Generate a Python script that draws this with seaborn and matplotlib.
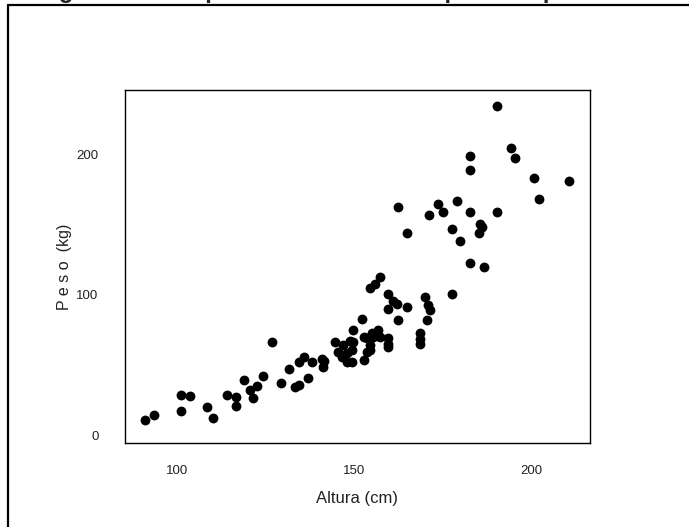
import matplotlib
matplotlib.use('Agg')
import matplotlib.pyplot as plt
import pandas as pd
import seaborn as sns

# Height (cm) and weight (kg)
altura = [91.1, 93.7, 101.2, 103.7, 101.2, 108.6, 110.3, 114.1, 116.6, 116.6,
          119.0, 120.6, 121.6, 122.5, 124.2, 126.8, 129.3, 131.7, 133.3, 134.5,
          134.5, 135.7, 136.9, 138.2, 140.8, 141.3, 141.6,
          144.6, 145.5, 146.5, 146.9, 147.9, 147.9, 148.8, 149.3, 149.3, 149.7,
          149.7, 152.1, 152.6, 152.6, 153.5, 153.5, 154.5, 154.5, 154.9, 155.4,
          156.8, 157.3, 159.6, 159.6, 159.6,
          154.5, 155.9, 157.3, 159.6, 161.0, 162.0, 159.6, 164.8, 162.3,
          170.0, 170.9, 171.4, 170.4, 168.5, 168.5, 168.5, 177.5,
          162.3, 164.8, 171.0, 173.5, 175.1, 178.8, 182.6, 190.1, 177.5, 179.8,
          185.3, 185.9, 185.2, 182.6, 186.4, 190.1, 182.6, 182.6, 194.1, 195.3,
          200.5, 201.9, 210.6]
peso = [11.3, 14.9, 29.1, 28.4, 17.7, 20.8, 13.0, 29.1, 27.9, 21.3,
        39.7, 32.6, 26.7, 35.5, 42.8, 66.9, 37.4, 47.5, 34.5, 36.2,
        52.7, 55.8, 41.3, 52.7, 54.4, 49.1, 53.0,
        66.9, 59.8, 56.2, 64.5, 58.6, 52.7, 67.0, 61.0, 52.7, 75.0,
        66.9, 83.0, 70.4, 53.9, 69.3, 59.8, 61.0, 64.5, 72.8, 70.4,
        75.2, 70.0, 69.3, 65.0, 63.3,
        104.7, 107.5, 112.8, 100.5, 96.0, 93.5, 90.0, 91.7, 82.3,
        98.8, 93.0, 89.0, 82.0, 73.0, 69.0, 65.0, 100.5,
        162.6, 143.8, 156.7, 164.8, 158.8, 166.9, 158.8, 159.1, 146.6, 138.2,
        150.6, 148.0, 143.8, 122.9, 119.5, 234.0, 198.6, 189.0, 204.0, 197.0,
        182.8, 167.9, 180.9]

x_ticks = [100, 150, 200]
y_ticks = [0, 100, 200]

df = pd.DataFrame({'Altura': altura, 'Peso': peso})

sns.set_style('white')
plt.rcParams['font.family'] = ['Liberation Sans', 'DejaVu Sans']

fig = plt.figure(figsize=(6.89, 5.27), dpi=100)
ax = fig.add_axes([125 / 689, 84 / 527, 465 / 689, 353 / 527])

sns.scatterplot(data=df, x='Altura', y='Peso', ax=ax, color='black',
                marker='o', s=50, linewidth=0)

ax.set_xlim(85.4, 216.4)
ax.set_ylim(-5.0, 245.4)
ax.set_xticks(x_ticks)
ax.set_yticks(y_ticks)
ax.tick_params(axis='both', direction='out', length=9, width=1.0,
               colors='#222222', labelsize=9.5)
ax.tick_params(axis='y', length=10, pad=9)
ax.tick_params(axis='x', pad=7)
for sp in ax.spines.values():
    sp.set_color('black')
    sp.set_linewidth(1.0)

ax.set_xlabel('Altura (cm)', fontsize=12, color='#222222', labelpad=10)
ax.set_ylabel('P e s o  (kg)', fontsize=11.5, color='#222222', labelpad=3)

# outer frame (right and bottom edges fall outside the picture)
top = 1 - 5 / 527
fig.add_artist(plt.Line2D([8 / 689, 8 / 689], [0, top], color='black', lw=1.6))
fig.add_artist(plt.Line2D([8 / 689, 1], [top, top], color='black', lw=1.6))

# title, cut off at the top edge as in the reference
fig.text(22 / 689, 1 + 2 / 527, 'Diagrama de dispersão entre altura e peso corporal',
         fontsize=17, fontweight='bold', ha='left', va='baseline', color='#222222')

fig.savefig('out.png', dpi=100)
